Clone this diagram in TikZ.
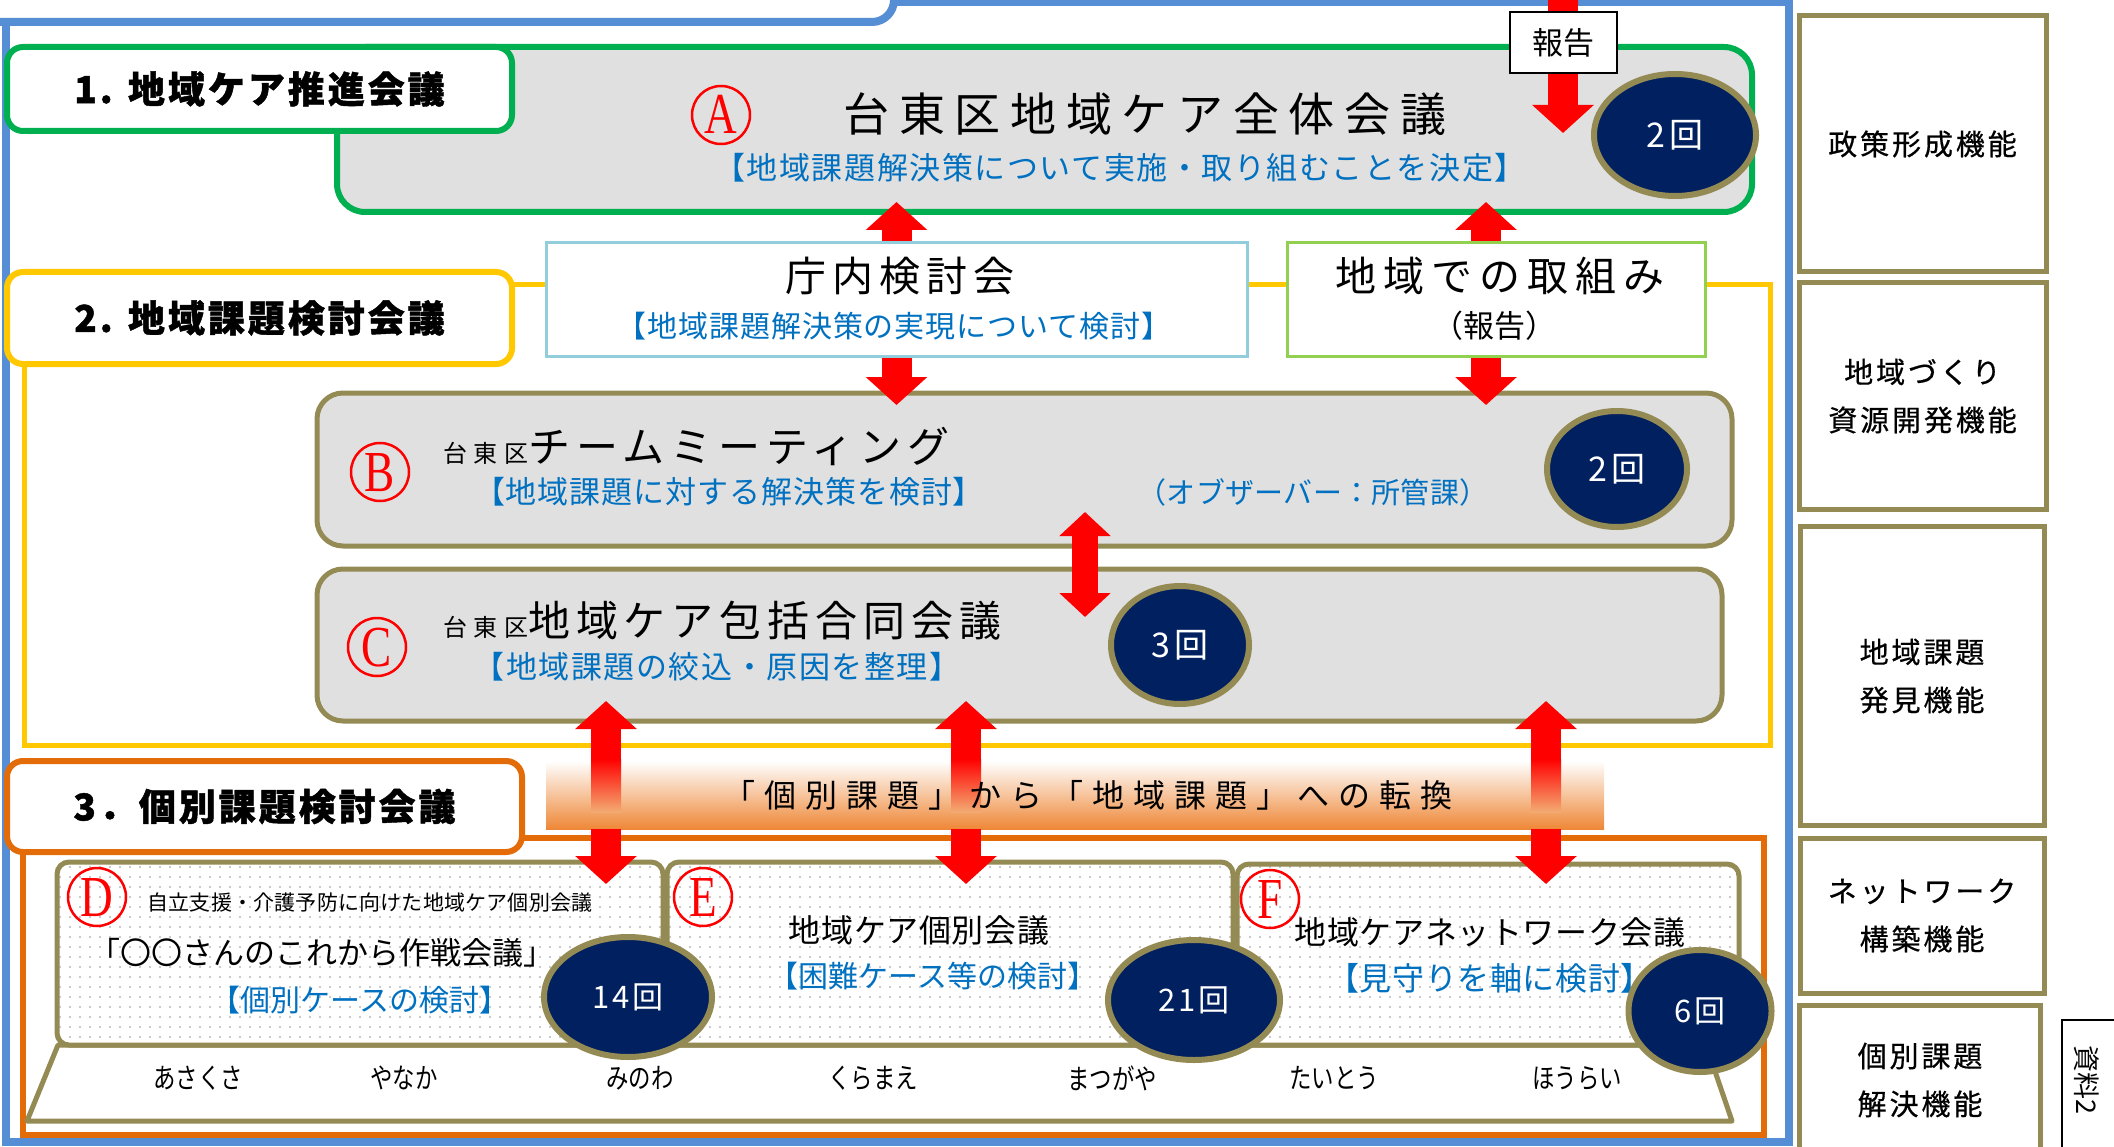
\documentclass[tikz,border=0pt]{standalone}
\usepackage{fontspec}
\setmainfont{Noto Sans CJK JP}
\newfontfamily\heavy[FakeBold=1.2]{Noto Sans CJK JP}
\newfontfamily\rfont[FakeBold=0.6]{Noto Sans CJK JP}
\newfontfamily\lser[FakeStretch=0.78]{Liberation Serif}
\usetikzlibrary{shapes.geometric,arrows.meta,patterns.meta,calc}
\definecolor{frameblue}{RGB}{85,142,213}
\definecolor{cgreen}{RGB}{0,176,80}
\definecolor{cyellow}{RGB}{255,200,0}
\definecolor{corange}{RGB}{227,108,9}
\definecolor{colive}{RGB}{148,138,84}
\definecolor{navy}{RGB}{0,32,96}
\definecolor{tblue}{RGB}{0,112,192}
\definecolor{lblue}{RGB}{146,205,220}
\definecolor{lgreen}{RGB}{146,208,80}
\definecolor{bandor}{RGB}{238,135,55}
\definecolor{boxgray}{RGB}{224,224,224}
\newcommand{\fz}[2]{\fontsize{#1}{#1}\selectfont\addfontfeature{LetterSpace=#2}}
\newcommand{\fzs}[3]{\fontsize{#1}{#1}\selectfont\addfontfeature{LetterSpace=#2,FakeStretch=#3}}
\newcommand{\cltxt}[1]{\smash{\raisebox{-19pt}{#1}}}
\tikzdeclarepattern{name=sparsedots, type=uncolored,
  bottom left={(-1.5pt,-1.5pt)}, top right={(8.5pt,8.5pt)}, tile size={(10pt,10pt)},
  code={\fill (0pt,0pt) circle (1.1pt);}}
\tikzset{
  lbl/.style={draw=#1, line width=6pt, rounded corners=16pt, fill=white, inner sep=0pt, font=\heavy\bfseries\fz{37}{8}},
  bigbox/.style={draw=#1, line width=5pt, rounded corners=26pt, fill=boxgray, inner sep=0pt},
  smallbox/.style={draw=colive, line width=5pt, rounded corners=12pt, preaction={fill=white}, pattern=sparsedots, pattern color=gray!55, inner sep=0pt},
  midbox/.style={draw=#1, line width=3pt, fill=white, inner sep=0pt},
  cnt/.style={ellipse, draw=colive, line width=6pt, fill=navy, text=white, inner sep=0pt},
  cl/.style={circle, draw=red, line width=2.5pt, text=red, minimum size=58pt, inner sep=0pt, font=\lser\fontsize{58}{58}\selectfont},
  ra/.style={draw=red, line width=30pt, -{Triangle[width=60pt,length=28pt]}},
  rad/.style={draw=red, line width=26pt, {Triangle[width=50pt,length=24pt]}-{Triangle[width=50pt,length=24pt]}},
  rbox/.style={draw=colive, line width=5pt, fill=white, inner sep=0pt, align=center, font=\rfont\fontsize{29}{48}\selectfont\addfontfeature{LetterSpace=10}},
  btxt/.style={text=tblue, inner sep=0pt},
  ktxt/.style={text=black, inner sep=0pt},
}
\begin{document}
\begin{tikzpicture}[x=1pt,y=-1pt]
\useasboundingbox (0,0) rectangle (2114,1147);
% outer frames
\draw[frameblue, line width=8pt] (6,2) rectangle (1789,1142);
\draw[frameblue, line width=8pt, fill=white, rounded corners=22pt] (-40,-80) rectangle (894,22);
\draw[cyellow, line width=5pt] (400,285) -- (1770,285) -- (1770,745) -- (24,745) -- (24,340);
\draw[corange, line width=6pt] (400,838) -- (1764,838) -- (1764,1135) -- (23,1135) -- (23,820);

% ---- level 1
\node[bigbox=cgreen, line width=6pt, rounded corners=28pt, minimum width=1415pt, minimum height=165pt] (A) at (1044.5,129.5) {};
\node[lbl=cgreen, minimum width=505pt, minimum height=84pt] (L1) at (259.5,89) {1. 地域ケア推進会議};
\node[cl] (cA) at (721,115) {\cltxt{A}};
\node[ktxt, font=\fz{46}{21}] (tA) at (1145,114) {台東区地域ケア全体会議};
\node[btxt, font=\fz{31}{5}] (sA) at (1120,168) {【地域課題解決策について実施・取り組むことを決定】};
\coordinate (hk0) at (1563,-10);
\coordinate (hk1) at (1563,133);
\draw[ra] (hk0) -- (hk1);
\node[draw=black, line width=2pt, fill=white, minimum width=107pt, minimum height=61pt, inner sep=0pt, font=\fz{31}{0}] (HK) at (1563,43) {報告};
\node[cnt, minimum width=162pt, minimum height=122pt, font=\fz{34}{12}] (nA) at (1675,135) {2回};

% ---- level 2
\node[midbox=lblue, minimum width=701pt, minimum height=114pt] (CH) at (896.5,300) {};
\node[midbox=lgreen, minimum width=418pt, minimum height=114pt] (CK) at (1496,300) {};
\node[lbl=cyellow, minimum width=505pt, minimum height=92pt] (L2) at (259.5,318) {2. 地域課題検討会議};
\node[ktxt, font=\fz{41}{15}] (tCH) at (900,276) {庁内検討会};
\node[btxt, font=\fz{30}{3}] (sCH) at (894,326) {【地域課題解決策の実現について検討】};
\node[ktxt, font=\fz{41}{17}] (tCK) at (1500,276) {地域での取組み};
\node[ktxt, font=\fz{31}{0}] (sCK) at (1494,326) {（報告）};
\coordinate (tA1) at (896.5,202);
\coordinate (tA2) at (1486,202);
\coordinate (tB1) at (896.5,405);
\coordinate (tB2) at (1486,405);
\draw[ra] (CH.north) -- (tA1);
\draw[ra] ($(CK.north)+(-10,0)$) -- (tA2);

\node[bigbox=colive, minimum width=1415pt, minimum height=153pt] (B) at (1024.5,469.5) {};
\node[bigbox=colive, minimum width=1405pt, minimum height=152pt] (C) at (1019.5,645) {};
\draw[ra] (CH.south) -- (tB1);
\draw[ra] ($(CK.south)+(-10,0)$) -- (tB2);

\node[cl] (cB) at (380,472) {\cltxt{B}};
\node[ktxt, anchor=west] (tB) at (443,446) {{\fz{24}{27}台東区}{\fz{42}{14}チームミーティング}};
\node[btxt, font=\fz{31}{3}] (sB) at (729,492) {【地域課題に対する解決策を検討】};
\node[btxt, font=\fz{29}{1}] (oB) at (1313,492) {（オブザーバー：所管課）};
\node[cnt, minimum width=140pt, minimum height=116pt, font=\fz{34}{12}] (nB) at (1617,469) {2回};

\node[cl] (cC) at (377,647) {\cltxt{C}};
\node[ktxt, anchor=west] (tC) at (443,621) {{\fz{24}{27}台東区}{\fz{42}{14}地域ケア包括合同会議}};
\node[btxt, font=\fz{31}{5}] (sC) at (717,667) {【地域課題の絞込・原因を整理】};
\node[cnt, minimum width=138pt, minimum height=118pt, font=\fz{34}{12}] (nC) at (1180,645) {3回};
\coordinate (bc0) at (1085,512);
\coordinate (bc1) at (1085,617);
\draw[rad] (bc0) -- (bc1);

% ---- band
\node[minimum width=1058pt, minimum height=68pt, inner sep=0pt, top color=white, bottom color=bandor] (BAND) at (1075,795) {};
\foreach \x [count=\i] in {606,966,1546} {
  \coordinate (up\i) at (\x,701);
  \coordinate (dn\i) at (\x,884);
  \draw[ra] (BAND.north -| up\i) -- (up\i);
  \shade[top color=red, bottom color=bandor!70!white] (\x-15,759) rectangle (\x+15,812);
}
\node[ktxt, font=\fz{32}{28}] (tBAND) at (1088,795) {「個別課題」から「地域課題」への転換};

% ---- level 3
\node[lbl=corange, minimum width=515pt, minimum height=91pt] (L3) at (264.5,806.5) {3．個別課題検討会議};
\draw[colive, line width=5pt, fill=white, line join=round] (58,1045) -- (27,1121) -- (1732,1121) -- (1706,1045) -- cycle;
\node[smallbox, minimum width=606pt, minimum height=183pt] (D) at (360,953.5) {};
\node[smallbox, minimum width=566pt, minimum height=183pt] (E) at (950,953.5) {};
\node[smallbox, minimum width=502pt, minimum height=181pt] (F) at (1488,954.5) {};
\foreach \i in {1,2,3} { \draw[ra] (BAND.south -| dn\i) -- (dn\i); }

\node[cl] (cD) at (97,897) {\cltxt{D}};
\node[ktxt, font=\fz{21}{1}] (sD) at (370,903) {自立支援・介護予防に向けた地域ケア個別会議};
\node[ktxt, font=\fz{31}{0}] (tD) at (322,953) {「〇〇さんのこれから作戦会議」};
\node[btxt, font=\fz{30}{0}] (bD) at (360,1000) {【個別ケースの検討】};
\node[cl] (cE) at (703,897) {\cltxt{E}};
\node[ktxt, font=\fz{32}{2}] (tE) at (919,930) {地域ケア個別会議};
\node[btxt, font=\fz{30}{0}] (bE) at (933,976) {【困難ケース等の検討】};
\node[cl] (cF) at (1270,899) {\cltxt{F}};
\node[ktxt, font=\fz{32}{2}] (tF) at (1490,932) {地域ケアネットワーク会議};
\node[btxt, font=\fz{32}{2}] (bF) at (1490,978) {【見守りを軸に検討】};
\node[cnt, minimum width=168pt, minimum height=120pt, font=\fz{31}{8}] (nD) at (628,997) {14回};
\node[cnt, minimum width=172pt, minimum height=120pt, font=\fz{31}{8}] (nE) at (1194,1000) {21回};
\node[cnt, minimum width=143pt, minimum height=122pt, font=\fz{31}{8}] (nF) at (1700,1011) {6回};

\foreach \t/\x [count=\i] in {あさくさ/198,やなか/404,みのわ/640,くらまえ/873,まつがや/1112,たいとう/1334,ほうらい/1577} {
  \node[ktxt, font=\fzs{28}{0}{0.8}] (area\i) at (\x,1078) {\t};
}

% ---- right column
\node[rbox, minimum width=247pt, minimum height=256pt] (R1) at (1922.5,144) {政策形成機能};
\node[rbox, minimum width=247pt, minimum height=226pt] (R2) at (1922.5,396) {地域づくり\\資源開発機能};
\node[rbox, minimum width=244pt, minimum height=299pt] (R3) at (1922,676) {地域課題\\発見機能};
\node[rbox, minimum width=244pt, minimum height=155pt] (R4) at (1922,915.5) {ネットワーク\\構築機能};
\node[rbox, minimum width=241pt, minimum height=150pt] (R5) at (1920,1080) {個別課題\\解決機能};
\node[draw=black, line width=1.5pt, fill=white, minimum width=58pt, minimum height=135pt, inner sep=0pt] (S) at (2091,1087.5) {};
\node[ktxt, rotate=-90, font=\fz{27}{0}] (St) at (2087,1080) {資料2};
\end{tikzpicture}
\end{document}
